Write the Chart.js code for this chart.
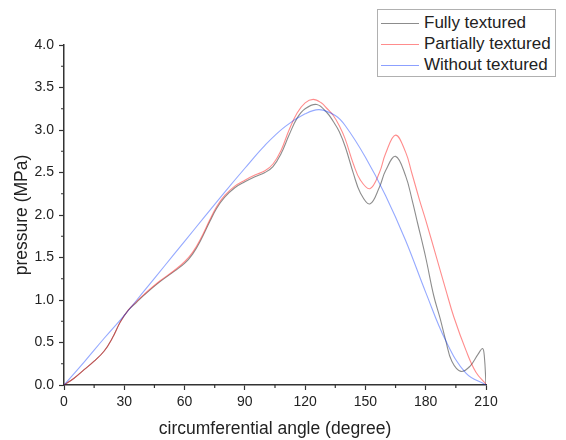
<!DOCTYPE html>
<html>
<head>
<meta charset="utf-8">
<script src="https://cdn.jsdelivr.net/npm/chart.js@4.4.1/dist/chart.umd.min.js"></script>
<style>
  html, body { margin: 0; padding: 0; background: #fff; }
  #wrap { position: relative; width: 566px; height: 440px; }
  #legend {
    position: absolute; left: 377px; top: 9px; width: 179px; height: 68px;
    border: 1px solid #b0b0b0; box-sizing: border-box; background: #fff;
    font-family: "Liberation Sans", Arial, sans-serif; font-size: 17px; color: #222;
  }
  .row { position: absolute; left: 0; height: 20px; line-height: 20px; white-space: nowrap; }
  .sw { position: absolute; left: 3px; top: 10px; width: 38px; height: 0; border-top: 1px solid transparent; }
  .lb { position: absolute; left: 46px; top: 0; }
</style>
</head>
<body>
<div id="wrap">
  <canvas id="c" width="566" height="440"></canvas>
  <div id="legend"></div>
</div>
<script>
// ---- data ----
const seriesNames = ["Fully textured", "Partially textured", "Without textured"];
const xTicks = [0, 30, 60, 90, 120, 150, 180, 210];
const yTicks = ["0.0", "0.5", "1.0", "1.5", "2.0", "2.5", "3.0", "3.5", "4.0"];

const fullyAngle = [0, 5, 10, 15, 20, 24, 28, 32, 36, 40, 47.5, 55, 60, 64, 68, 72.5, 76, 80, 85, 90, 95, 100, 104, 108, 112, 116, 120, 125.8, 131, 134, 137, 140, 144, 147.5, 152.2, 157, 160, 165, 170, 173.3, 176, 180, 184, 187.2, 190, 193, 197.5, 202, 206, 208.3, 209.2, 210];
const fullyPressure = [0, 0.08, 0.18, 0.28, 0.40, 0.55, 0.74, 0.88, 0.97, 1.06, 1.21, 1.34, 1.43, 1.54, 1.70, 1.92, 2.08, 2.21, 2.32, 2.39, 2.45, 2.50, 2.57, 2.72, 2.94, 3.14, 3.25, 3.30, 3.20, 3.10, 2.98, 2.80, 2.49, 2.26, 2.13, 2.33, 2.52, 2.69, 2.46, 2.17, 1.90, 1.50, 1.05, 0.78, 0.52, 0.28, 0.16, 0.22, 0.36, 0.43, 0.33, 0];

const partialAngle = [0, 5, 10, 15, 20, 24, 28, 32, 36, 40, 47.5, 55, 60, 64, 68, 72.5, 76, 80, 85, 90, 95, 100, 104, 108, 112, 116, 120, 124, 128, 131, 134, 137, 140, 144, 147.5, 152.2, 157, 160, 165, 170, 173, 177, 180, 185, 190, 194, 200, 205, 210];
const partialPressure = [0, 0.08, 0.18, 0.28, 0.40, 0.55, 0.74, 0.88, 0.98, 1.07, 1.22, 1.35, 1.45, 1.56, 1.72, 1.94, 2.10, 2.23, 2.34, 2.41, 2.47, 2.52, 2.60, 2.76, 3.00, 3.20, 3.32, 3.36, 3.32, 3.25, 3.17, 3.05, 2.89, 2.60, 2.41, 2.31, 2.50, 2.72, 2.94, 2.74, 2.50, 2.17, 1.94, 1.53, 1.12, 0.80, 0.41, 0.15, 0.01];

const withoutAngle = [0, 10, 20, 30, 40, 50, 60, 70, 80, 90, 100, 110, 120, 127, 135, 140, 150, 160, 170, 180, 190, 200, 210];
const withoutPressure = [0, 0.27, 0.55, 0.82, 1.11, 1.40, 1.69, 1.98, 2.27, 2.55, 2.82, 3.04, 3.19, 3.24, 3.17, 3.05, 2.68, 2.23, 1.70, 1.09, 0.52, 0.14, 0];

const seriesColors = ["rgba(0,0,0,0.45)", "rgba(255,0,0,0.45)", "rgba(0,50,255,0.42)"];
const swatchColors = ["#8c8c8c", "#ff8c8c", "#8ca0ff"];

// ---- build ----
const pts = (xs, ys) => xs.map((x, i) => ({ x: x, y: ys[i] }));
const dataSets = [
  pts(fullyAngle, fullyPressure),
  pts(partialAngle, partialPressure),
  pts(withoutAngle, withoutPressure)
];

const FONT = "'Liberation Sans', Arial, sans-serif";
const AX = "#333";

const minorTicks = {
  id: "minorTicks",
  afterDraw(chart) {
    const ctx = chart.ctx;
    const xs = chart.scales.x, ys = chart.scales.y;
    const ca = chart.chartArea;
    ctx.save();
    ctx.strokeStyle = AX;
    ctx.lineWidth = 1.2;
    ctx.beginPath();
    for (let i = 0; i < xTicks.length - 1; i++) {
      const v = (xTicks[i] + xTicks[i + 1]) / 2;
      const px = xs.getPixelForValue(v);
      ctx.moveTo(px, ca.bottom);
      ctx.lineTo(px, ca.bottom + 3);
    }
    for (let i = 0; i < yTicks.length - 1; i++) {
      const v = (parseFloat(yTicks[i]) + parseFloat(yTicks[i + 1])) / 2;
      const py = ys.getPixelForValue(v);
      ctx.moveTo(ca.left, py);
      ctx.lineTo(ca.left - 3, py);
    }
    ctx.stroke();
    ctx.restore();
  }
};

new Chart(document.getElementById("c"), {
  type: "line",
  data: {
    datasets: dataSets.map((d, i) => ({
      label: seriesNames[i],
      data: d,
      borderColor: seriesColors[i],
      borderWidth: 1.1,
      pointRadius: 0,
      fill: false,
      tension: 0.4,
      order: i === 0 ? 2 : (i === 1 ? 1 : 0)
    }))
  },
  options: {
    responsive: false,
    animation: false,
    devicePixelRatio: 1,
    layout: { padding: { top: 45, right: 80, left: 0, bottom: 0 } },
    plugins: { legend: { display: false }, tooltip: { enabled: false } },
    scales: {
      x: {
        type: "linear",
        min: xTicks[0],
        max: xTicks[xTicks.length - 1],
        afterFit(s) { s.height = 55; },
        afterBuildTicks(s) { s.ticks = xTicks.map(v => ({ value: v })); },
        border: { display: true, color: AX, width: 1.5 },
        grid: { drawOnChartArea: false, drawTicks: true, tickLength: 5, tickColor: AX, tickWidth: 1.2 },
        ticks: { color: "#222", font: { family: FONT, size: 14 }, padding: 4, maxRotation: 0, autoSkip: false,
                 callback: (v) => String(v) },
        title: { display: true, text: "circumferential angle (degree)", color: "#222",
                 font: { family: FONT, size: 17.5 }, padding: { top: 0, bottom: 0 } }
      },
      y: {
        type: "linear",
        min: 0,
        max: 4,
        afterFit(s) { s.width = 64; },
        afterBuildTicks(s) { s.ticks = yTicks.map(v => ({ value: parseFloat(v) })); },
        border: { display: true, color: AX, width: 1.5 },
        grid: { drawOnChartArea: false, drawTicks: true, tickLength: 5, tickColor: AX, tickWidth: 1.2 },
        ticks: { color: "#222", font: { family: FONT, size: 14 }, padding: 5, autoSkip: false,
                 callback: (v) => yTicks[yTicks.findIndex(t => Math.abs(parseFloat(t) - v) < 1e-9)] },
        title: { display: true, text: "pressure (MPa)", color: "#222",
                 font: { family: FONT, size: 17.5 }, padding: { top: 12, bottom: 0 } }
      }
    }
  },
  plugins: [minorTicks]
});

// HTML legend
const lg = document.getElementById("legend");
seriesNames.forEach((name, i) => {
  const row = document.createElement("div");
  row.className = "row";
  row.style.top = (3 + i * 21) + "px";
  const sw = document.createElement("div");
  sw.className = "sw";
  sw.style.borderTopColor = swatchColors[i];
  const lb = document.createElement("div");
  lb.className = "lb";
  lb.textContent = name;
  row.appendChild(sw); row.appendChild(lb);
  lg.appendChild(row);
});
</script>
</body>
</html>
